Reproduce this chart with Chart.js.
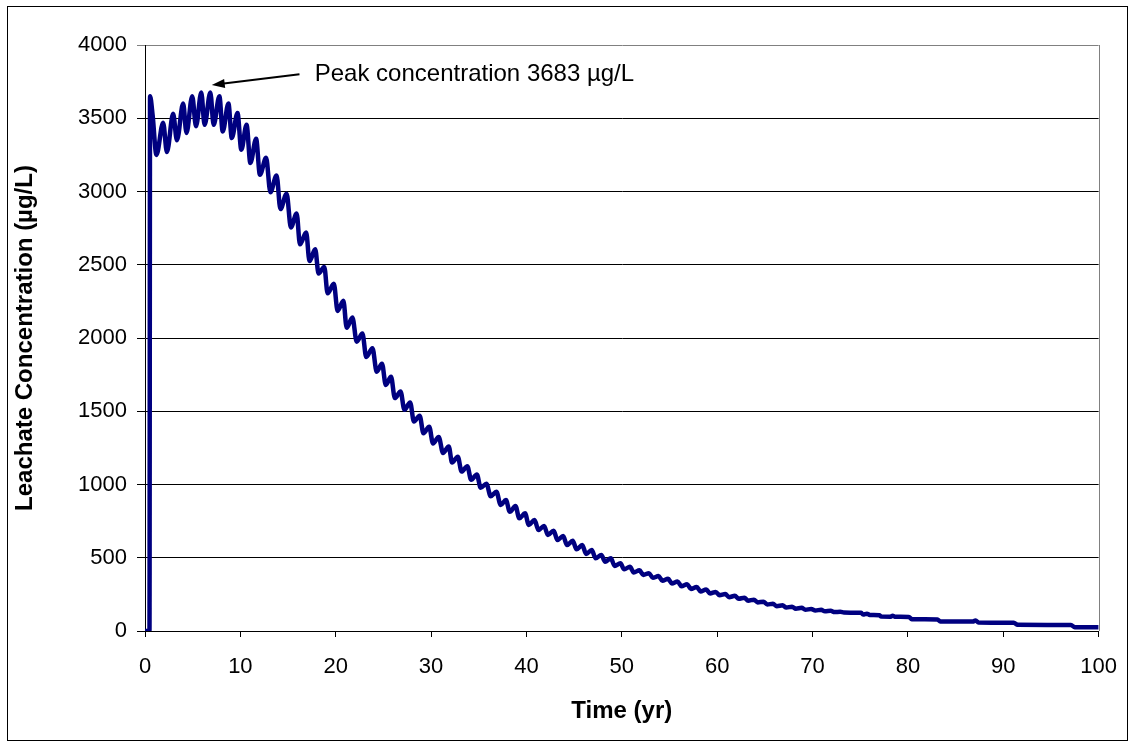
<!DOCTYPE html>
<html lang="en">
<head>
<meta charset="UTF-8">
<title>Leachate Concentration</title>
<script src="https://cdn.jsdelivr.net/npm/chart.js"></script>
<style>
  html, body { margin: 0; padding: 0; background: #fff; }
  #wrap { width: 1134px; height: 748px; }
</style>
</head>
<body>
<div id="wrap"><canvas id="leachateChart" width="1134" height="748"></canvas></div>
<script>
// time (yr) and leachate concentration (ug/L) (peaks and troughs)
const years = [
  0, 0.47, 0.53, 0.8, 1.2, 1.9, 2.3, 2.95, 3.35, 4.0, 4.35, 4.95, 5.35, 5.9, 6.25, 6.85, 7.2, 7.8, 8.15, 8.75,
  9.1, 9.7, 10.1, 10.65, 11.05, 11.65, 12.05, 12.7, 13.15, 13.8, 14.2, 14.85, 15.3, 15.9, 16.25, 16.9, 17.25, 17.85,
  18.2, 18.8, 19.15, 19.8, 20.2, 20.8, 21.15, 21.75, 22.2, 22.8, 23.2, 23.85, 24.3, 24.85, 25.25, 25.8, 26.2, 26.8,
  27.2, 27.8, 28.2, 28.8, 29.2, 29.8, 30.2, 30.8, 31.25, 31.85, 32.2, 32.8, 33.2, 33.8, 34.2, 34.8, 35.2, 35.8,
  36.25, 36.85, 37.3, 37.85, 38.25, 38.85, 39.25, 39.85, 40.25, 40.85, 41.25, 41.85, 42.25, 42.85, 43.25, 43.85,
  44.25, 44.85, 45.25, 45.85, 46.25, 46.85, 47.25, 47.85, 48.25, 48.85, 49.25, 49.85, 50.25, 50.85, 51.25, 51.85,
  52.25, 52.85, 53.25, 53.85, 54.25, 54.85, 55.25, 55.85, 56.25, 56.85, 57.25, 57.85, 58.25, 58.85, 59.25, 59.85,
  60.25, 60.85, 61.25, 61.85, 62.25, 62.85, 63.25, 63.85, 64.25, 64.85, 65.25, 65.85, 66.25, 66.85, 67.25, 67.85,
  68.25, 68.85, 69.25, 69.85, 70.3, 70.9, 71.3, 71.9, 72.3, 72.9, 73.3, 74, 75.1, 75.3, 75.7, 76, 77, 77.2,
  78.2, 78.4, 78.6, 80.1, 80.4, 83.1, 83.4, 86.8, 87.1, 87.4, 91.1, 91.5, 97.1, 97.5, 100
];
const concentration = [
  0, 0, 3650, 3520, 3250, 3470, 3270, 3530, 3350, 3600, 3400, 3650, 3445, 3675, 3455, 3675, 3455, 3650, 3410, 3600,
  3365, 3535, 3285, 3455, 3195, 3360, 3115, 3230, 2995, 3110, 2880, 2985, 2755, 2850, 2640, 2720, 2525, 2605,
  2440, 2485, 2305, 2370, 2185, 2255, 2070, 2140, 1975, 2030, 1870, 1930, 1770, 1825, 1680, 1735, 1590, 1635,
  1510, 1560, 1430, 1470, 1350, 1395, 1280, 1325, 1215, 1260, 1150, 1190, 1088, 1125, 1032, 1068, 978, 1005,
  920, 950, 860, 894, 814, 853, 769, 803, 724, 758, 689, 717, 655, 685, 621, 648,
  587, 616, 558, 587, 526, 553, 496, 519, 473, 496, 444, 462, 421, 439, 400, 414,
  383, 395, 363, 375, 343, 356, 325, 338, 306, 319, 287, 300, 270, 283, 256, 267,
  244, 252, 231, 240, 220, 227, 207, 214, 195, 200, 181, 186, 169, 175, 160, 166,
  152, 158, 145, 151, 140, 145, 134, 138, 129, 131, 126, 125, 124, 112, 118, 110, 108, 99,
  98, 104, 98, 96, 81, 79, 65, 64, 72, 58, 56, 42, 41, 26, 25
];

const xTicks = [0, 10, 20, 30, 40, 50, 60, 70, 80, 90, 100];
const yTicks = [0, 500, 1000, 1500, 2000, 2500, 3000, 3500, 4000];

// annotation, in data units
const peakText = "Peak concentration 3683 \u00b5g/L";
const arrowHead = { x: 7.0, y: 3727 };
const arrowTail = { x: 16.2, y: 3800 };
const textAnchor = { x: 17.8, y: 3800 };

const FONT = "'Liberation Sans', Arial, sans-serif";

const frame = {
  id: "frame",
  beforeDraw(chart) {
    const c = chart.ctx;
    c.save();
    c.fillStyle = "#fff";
    c.fillRect(0, 0, chart.width, chart.height);
    c.restore();
  },
  afterDraw(chart) {
    const c = chart.ctx;
    const a = chart.chartArea;
    c.save();
    // outer box
    c.strokeStyle = "#000";
    c.lineWidth = 1;
    c.strokeRect(7.5, 6.5, 1120, 734);
    // plot area right edge
    c.strokeStyle = "#808080";
    c.beginPath();
    c.moveTo(Math.round(a.right) + 0.5, a.top);
    c.lineTo(Math.round(a.right) + 0.5, a.bottom);
    c.stroke();
    c.restore();
  }
};

const peakNote = {
  id: "peakNote",
  afterDatasetsDraw(chart) {
    const { x, y } = chart.scales;
    const c = chart.ctx;
    const hx = x.getPixelForValue(arrowHead.x), hy = y.getPixelForValue(arrowHead.y);
    const tx = x.getPixelForValue(arrowTail.x), ty = y.getPixelForValue(arrowTail.y);
    const ang = Math.atan2(hy - ty, hx - tx);
    c.save();
    c.strokeStyle = "#000";
    c.fillStyle = "#000";
    c.lineWidth = 2;
    c.beginPath();
    c.moveTo(tx, ty);
    c.lineTo(hx - 8 * Math.cos(ang), hy - 8 * Math.sin(ang));
    c.stroke();
    c.beginPath();
    c.moveTo(hx, hy);
    c.lineTo(hx - 13 * Math.cos(ang) + 4.5 * Math.sin(ang), hy - 13 * Math.sin(ang) - 4.5 * Math.cos(ang));
    c.lineTo(hx - 13 * Math.cos(ang) - 4.5 * Math.sin(ang), hy - 13 * Math.sin(ang) + 4.5 * Math.cos(ang));
    c.closePath();
    c.fill();
    c.font = "24px " + FONT;
    c.textAlign = "left";
    c.textBaseline = "middle";
    c.fillText(peakText, x.getPixelForValue(textAnchor.x), y.getPixelForValue(textAnchor.y));
    c.restore();
  }
};

new Chart(document.getElementById("leachateChart"), {
  type: "line",
  data: {
    datasets: [{
      data: years.map((t, i) => ({ x: t, y: concentration[i] })),
      borderColor: "#000080",
      borderWidth: 4.5,
      pointRadius: 0,
      cubicInterpolationMode: "monotone",
      fill: false
    }]
  },
  options: {
    responsive: false,
    devicePixelRatio: 1,
    animation: false,
    layout: { padding: { left: 0, right: 35, top: 45, bottom: 0 } },
    plugins: { legend: { display: false }, tooltip: { enabled: false } },
    scales: {
      x: {
        type: "linear",
        min: 0,
        max: 100,
        afterBuildTicks: s => { s.ticks = xTicks.map(v => ({ value: v })); },
        afterFit: s => { s.height = 117; },
        ticks: { color: "#000", font: { family: FONT, size: 22 }, padding: 17, maxRotation: 0, callback: v => String(v) },
        grid: { drawOnChartArea: false, drawTicks: true, tickLength: 6, color: "#000" },
        border: { color: "#000" },
        title: { display: true, text: "Time (yr)", color: "#000", font: { family: FONT, size: 24, weight: "bold" }, padding: { top: 0, bottom: 22 } }
      },
      y: {
        min: 0,
        max: 4000,
        afterBuildTicks: s => { s.ticks = yTicks.map(v => ({ value: v })); },
        afterFit: s => { s.width = 145; },
        ticks: { color: "#000", font: { family: FONT, size: 22 }, padding: 10, callback: v => String(v) },
        grid: { tickLength: 8, color: ctx => (ctx.tick && ctx.tick.value === 4000 ? "#808080" : "#000") },
        border: { color: "#000" },
        title: { display: true, text: "Leachate Concentration (\u00b5g/L)", color: "#000", font: { family: FONT, size: 24, weight: "bold" }, padding: { top: 11, bottom: 0 } }
      }
    }
  },
  plugins: [frame, peakNote]
});
</script>
</body>
</html>
